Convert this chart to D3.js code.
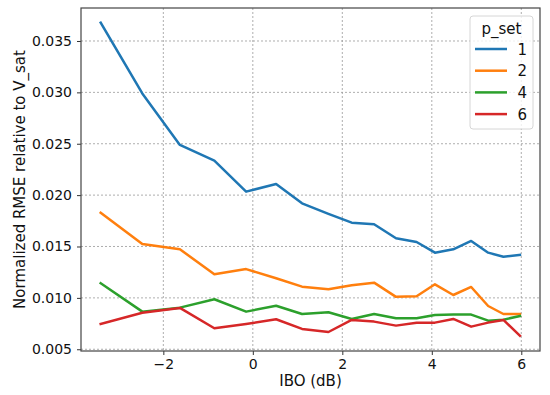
<!DOCTYPE html>
<html>
<head>
<meta charset="utf-8">
<script src="https://cdn.jsdelivr.net/npm/d3@7"></script>
<style>
  body { margin: 0; background: #fff; }
  svg { display: block; font-family: "DejaVu Sans", sans-serif; }
</style>
</head>
<body>
<svg id="chart" width="550" height="395"></svg>
<script>
// IBO (dB) sample points
const ibo = [-3.4, -2.47, -1.63, -0.86, -0.15, 0.52, 1.1, 1.69, 2.21, 2.71, 3.2, 3.66, 4.07, 4.48, 4.88, 5.26, 5.6, 5.97];

// normalized RMSE per p_set
const rmse1 = [0.03678, 0.0299, 0.02488, 0.02335, 0.02034, 0.02108, 0.0192, 0.01818, 0.01732, 0.01716, 0.0158, 0.01544, 0.0144, 0.01473, 0.01554, 0.0144, 0.01401, 0.01418];
const rmse2 = [0.01829, 0.01525, 0.01473, 0.0123, 0.0128, 0.01191, 0.01109, 0.01084, 0.01122, 0.01148, 0.0101, 0.01016, 0.01132, 0.01028, 0.01106, 0.00921, 0.00843, 0.00843];
const rmse4 = [0.01142, 0.00866, 0.00905, 0.00987, 0.00866, 0.00924, 0.00843, 0.0086, 0.00795, 0.00843, 0.00802, 0.00802, 0.00834, 0.00837, 0.00837, 0.00778, 0.00788, 0.00824];
const rmse6 = [0.00746, 0.00856, 0.00902, 0.00704, 0.00746, 0.00792, 0.00698, 0.00668, 0.00785, 0.00769, 0.0073, 0.00759, 0.00759, 0.00795, 0.0072, 0.00759, 0.00785, 0.00632];

const pSets = ["1", "2", "4", "6"];
const colors = ["#1f77b4", "#ff7f0e", "#2ca02c", "#d62728"];
const xTicks = [-2, 0, 2, 4, 6];
const yTicks = [0.005, 0.010, 0.015, 0.020, 0.025, 0.030, 0.035];

const series = [rmse1, rmse2, rmse4, rmse6].map((vals, i) => ({
  name: pSets[i],
  color: colors[i],
  points: vals.map((v, j) => [ibo[j], v])
}));

const margin = {left: 81, top: 8, right: 10, bottom: 44};
const width = 550, height = 395;

const svg = d3.select("#chart");

const x = d3.scaleLinear().domain([-3.84, 6.418]).range([margin.left, width - margin.right]);
const y = d3.scaleLinear().domain([0.00483, 0.03821]).range([height - margin.bottom, margin.top]);

// grid
const grid = svg.append("g");
grid.selectAll(".gx").data(xTicks).enter().append("line")
  .attr("x1", d => x(d)).attr("x2", d => x(d))
  .attr("y1", y.range()[1]).attr("y2", y.range()[0])
  .attr("stroke", "#999").attr("stroke-width", 0.8).attr("stroke-dasharray", "2,2");
grid.selectAll(".gy").data(yTicks).enter().append("line")
  .attr("x1", x.range()[0]).attr("x2", x.range()[1])
  .attr("y1", d => y(d)).attr("y2", d => y(d))
  .attr("stroke", "#999").attr("stroke-width", 0.8).attr("stroke-dasharray", "2,2");

// lines
const line = d3.line().x(d => x(d[0])).y(d => y(d[1]));
svg.selectAll(".series").data(series).enter().append("path")
  .attr("d", d => line(d.points))
  .attr("fill", "none")
  .attr("stroke", d => d.color)
  .attr("stroke-width", 2.5)
  .attr("stroke-linejoin", "round")
  .attr("stroke-linecap", "square");

// axes
const xAxis = svg.append("g")
  .attr("transform", `translate(0,${height - margin.bottom})`)
  .call(d3.axisBottom(x).tickValues(xTicks).tickSize(4).tickPadding(4)
    .tickFormat(d => d < 0 ? "\u2212" + Math.abs(d) : d));
const yAxis = svg.append("g")
  .attr("transform", `translate(${margin.left},0)`)
  .call(d3.axisLeft(y).tickValues(yTicks).tickSize(4).tickPadding(5).tickFormat(d3.format(".3f")));

[xAxis, yAxis].forEach(a => {
  a.select(".domain").remove();
  a.selectAll("text").attr("font-size", 14).attr("fill", "#111").attr("font-family", "DejaVu Sans");
  a.selectAll("line").attr("stroke", "#333");
});

// frame
svg.append("rect")
  .attr("x", x.range()[0]).attr("y", y.range()[1])
  .attr("width", x.range()[1] - x.range()[0])
  .attr("height", y.range()[0] - y.range()[1])
  .attr("fill", "none").attr("stroke", "#444").attr("stroke-width", 1.2);

// labels
svg.append("text")
  .attr("x", (x.range()[0] + x.range()[1]) / 2).attr("y", 386)
  .attr("text-anchor", "middle").attr("font-size", 15).attr("fill", "#111")
  .text("IBO (dB)");
svg.append("text")
  .attr("transform", `translate(25,${(y.range()[0] + y.range()[1]) / 2}) rotate(-90)`)
  .attr("text-anchor", "middle").attr("font-size", 15).attr("fill", "#111")
  .text("Normalized RMSE relative to V_sat");

// legend
const lg = svg.append("g").attr("transform", "translate(470,16)");
lg.append("rect")
  .attr("width", 63).attr("height", 113).attr("rx", 3)
  .attr("fill", "#fff").attr("fill-opacity", 0.8)
  .attr("stroke", "#d6d6d6");
lg.append("text")
  .attr("x", 31.5).attr("y", 18).attr("text-anchor", "middle")
  .attr("font-size", 15).attr("fill", "#111").text("p_set");
const items = lg.selectAll(".item").data(series).enter().append("g")
  .attr("transform", (d, i) => `translate(0,${33 + i * 21.7})`);
items.append("line")
  .attr("x1", 5).attr("x2", 37).attr("y1", 0).attr("y2", 0)
  .attr("stroke", d => d.color).attr("stroke-width", 2.5);
items.append("text")
  .attr("x", 57).attr("y", 5.5).attr("text-anchor", "end")
  .attr("font-size", 15).attr("fill", "#111").text(d => d.name);
</script>
</body>
</html>
